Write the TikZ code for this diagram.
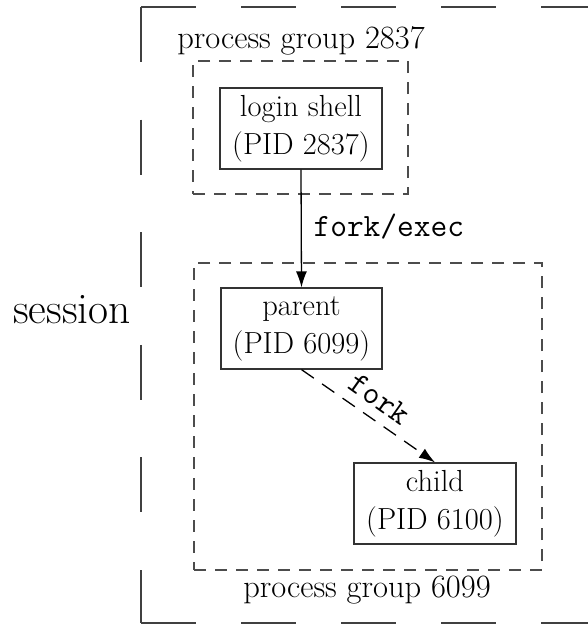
\documentclass[tikz,border=0pt]{standalone}
\usepackage{fontspec}
\usetikzlibrary{arrows.meta}
\begin{document}
\begin{tikzpicture}[x=1pt,y=-1pt,
  proc/.style={draw=black!80, line width=1.2pt, minimum width=162pt, minimum height=81pt, inner sep=0pt, align=center, font=\fontsize{30.5}{38}\selectfont},
  grp/.style={draw=black!70, line width=1.2pt, dash pattern=on 12pt off 9pt, inner sep=0pt},
  lbl/.style={font=\fontsize{32.5}{38}\selectfont, anchor=base},
  code/.style={font=\fontsize{32.5}{38}\selectfont\ttfamily},
  arr/.style={line width=1.3pt, -{Latex[length=16pt,width=11pt]}},
  sess/.style={draw=black!75, line width=1.5pt}]
\useasboundingbox (0,0) rectangle (588,624);

% session (long dashes)
\coordinate (stl) at (141,7);
\coordinate (str) at (600,7);
\coordinate (sbl) at (141,623);
\coordinate (sbr) at (600,623);
\draw[sess, dash pattern=on 55pt off 45pt] (stl) -- (str);
\draw[sess, dash pattern=on 55pt off 57.6pt] (stl) -- (sbl);
\draw[sess, dash pattern=on 55pt off 45pt] (sbl) -- (sbr);
\node[font=\fontsize{43.5}{50}\selectfont, anchor=base] (session) at (72,323) {session};

% process groups
\node[grp, minimum width=215pt, minimum height=133pt] (pgA) at (300.5,127.5) {};
\node[lbl] (pgAlbl) at (301,48) {process group 2837};
\node[grp, minimum width=348pt, minimum height=307pt] (pgB) at (368,416.5) {};
\node[lbl] (pgBlbl) at (367,597) {process group 6099};

% processes
\node[proc] (login) at (301,128.5) {login shell\\(PID 2837)};
\node[proc, minimum width=161pt] (parent) at (301.5,328.5) {parent\\(PID 6099)};
\node[proc] (child) at (435,503.5) {child\\(PID 6100)};

% connectors
\draw[arr] (login.south) -- (parent.north);
\node[code, anchor=base west] (forkexec) at (310,236) {fork/exec};
\draw[arr, dash pattern=on 15pt off 10pt] (parent.south) -- (child.north);
\node[code, rotate=-35.3] (forklbl) at (380,399) {fork};
\end{tikzpicture}
\end{document}
